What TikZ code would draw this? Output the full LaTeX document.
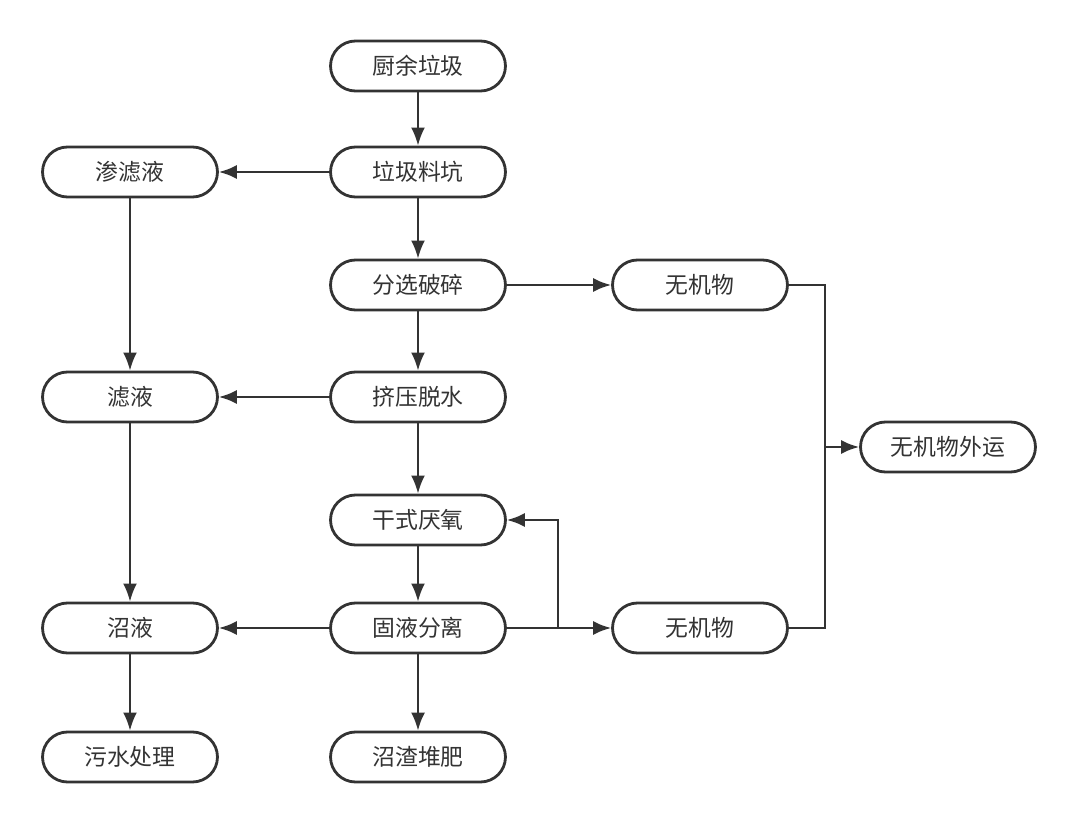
\documentclass[tikz,border=0pt]{standalone}
\usepackage{fontspec}
\setmainfont{Noto Sans CJK SC}
\usetikzlibrary{arrows.meta}
\definecolor{ink}{HTML}{333333}
\tikzset{
  stepbox/.style={draw=ink, line width=1.6pt, rounded corners=0.5cm, minimum width=3.5cm,
    minimum height=1cm, text=ink, font=\fontsize{13}{15}\selectfont},
  flow/.style={draw=ink, line width=1.3pt, -{Latex[length=3.6mm,width=2.8mm]}},
  link/.style={draw=ink, line width=1.3pt}
}
\begin{document}
\begin{tikzpicture}[x=0.02cm,y=-0.02cm]
  \useasboundingbox (0,0) rectangle (1080,821);
  % middle column
  \node[stepbox] (food) at (418,66) {厨余垃圾};
  \node[stepbox] (pit) at (418,172) {垃圾料坑};
  \node[stepbox] (sort) at (418,285) {分选破碎};
  \node[stepbox] (press) at (418,397) {挤压脱水};
  \node[stepbox] (dry) at (418,520) {干式厌氧};
  \node[stepbox] (sep) at (418,628) {固液分离};
  \node[stepbox] (compost) at (418,757) {沼渣堆肥};
  % left column
  \node[stepbox] (leach) at (130,172) {渗滤液};
  \node[stepbox] (filt) at (130,397) {滤液};
  \node[stepbox] (slurry) at (130,628) {沼液};
  \node[stepbox] (sewage) at (130,757) {污水处理};
  % right side
  \node[stepbox] (inorgA) at (700,285) {无机物};
  \node[stepbox] (inorgB) at (700,628) {无机物};
  \node[stepbox] (out) at (948,447) {无机物外运};
  \coordinate (join) at (825,447);
  \coordinate (back) at (558,628);

  \draw[flow] (food) -- (pit);
  \draw[flow] (pit) -- (sort);
  \draw[flow] (sort) -- (press);
  \draw[flow] (press) -- (dry);
  \draw[flow] (dry) -- (sep);
  \draw[flow] (sep) -- (compost);
  \draw[flow] (pit) -- (leach);
  \draw[flow] (press) -- (filt);
  \draw[flow] (sep) -- (slurry);
  \draw[flow] (leach) -- (filt);
  \draw[flow] (filt) -- (slurry);
  \draw[flow] (slurry) -- (sewage);
  \draw[flow] (sort) -- (inorgA);
  \draw[flow] (sep) -- (inorgB);
  \draw[flow] (back) |- (dry);
  \draw[link] (inorgA.east) -| (join);
  \draw[link] (inorgB.east) -| (join);
  \draw[flow] (join) -- (out);
\end{tikzpicture}
\end{document}
